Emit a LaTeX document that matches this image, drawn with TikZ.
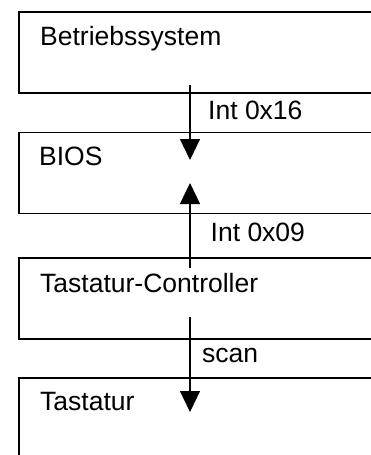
\documentclass[tikz,border=0pt]{standalone}
\usepackage{fontspec}
\setmainfont{Liberation Sans}
\usetikzlibrary{arrows.meta}
\begin{document}
\begin{tikzpicture}[x=1pt,y=-1pt,
  box/.style={draw=black,line width=1.6pt,anchor=north west,minimum width=380pt,minimum height=81pt,inner sep=0pt},
  txt/.style={anchor=base west,inner sep=0pt,font=\fontsize{26.5}{31}\selectfont},
  arr/.style={draw=black,line width=1.2pt,-{Triangle[length=21pt,width=20pt]}}]
\useasboundingbox (0,0) rectangle (371,455);
\clip (0,0) rectangle (371,455);
\node[box] (os) at (18,11) {};
\node[box] (bios) at (18,131.5) {};
\node[box] (kbc) at (18,257) {};
\node[box,minimum height=120pt] (kb) at (18,377) {};
\node[txt] (tos) at (40,45.7) {Betriebssystem};
\node[txt] (tbios) at (39,165.7) {BIOS};
\node[txt] (tkbc) at (40,292.7) {Tastatur-Controller};
\node[txt] (tkb) at (40,410) {Tastatur};
\coordinate (a1s) at (190,85);
\coordinate (a1e) at (190,160);
\coordinate (a2s) at (190,268);
\coordinate (a2e) at (190,183);
\coordinate (a3s) at (190,317);
\coordinate (a3e) at (190,412);
\draw[arr] (a1s) -- (a1e);
\draw[arr] (a2s) -- (a2e);
\draw[arr] (a3s) -- (a3e);
\node[txt] (l1) at (208,119) {Int 0x16};
\node[txt] (l2) at (210.5,241.5) {Int 0x09};
\node[txt] (l3) at (202,362.3) {scan};
\end{tikzpicture}
\end{document}
